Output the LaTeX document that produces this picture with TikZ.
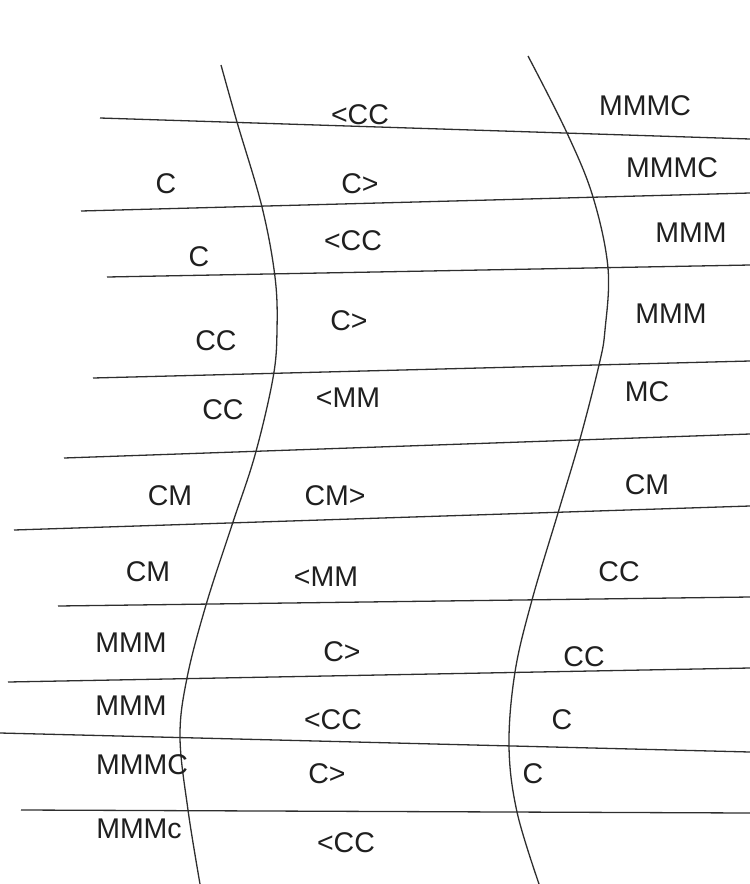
\documentclass[tikz,border=0pt]{standalone}
\usepackage{fontspec}
\setmainfont{Liberation Sans}
\begin{document}
\begin{tikzpicture}[x=1pt,y=-1pt,
  rule/.style={draw=black!82,line width=1.3pt},
  lbl/.style={inner sep=0pt,text=black!88,font=\fontsize{28.5}{34}\selectfont}]
\useasboundingbox (0,0) rectangle (750,884);
% horizontal lines
\draw[rule] (100,118) -- (750,139);
\draw[rule] (81,211) -- (750,193);
\draw[rule] (107,277) -- (750,265);
\draw[rule] (93,378) -- (750,361);
\draw[rule] (64,458) -- (750,434);
\draw[rule] (14,530) -- (750,506);
\draw[rule] (58,606) -- (750,597);
\draw[rule] (8,682) -- (750,668);
\draw[rule] (0,733) -- (750,752);
\draw[rule] (21,810) -- (750,813);
% left curve
\draw[rule] plot[smooth,tension=0.6] coordinates {(221,65) (237,122) (262,207) (275,277) (277,330) (273,378) (255,455) (232,525) (206,605) (187,678) (180,737) (188,810) (200,884)};
% right curve
\draw[rule] plot[smooth,tension=0.6] coordinates {(528,56) (567,133) (593,197) (608,268) (605,330) (599,365) (580,439) (558,513) (532,600) (515,672) (509,746) (517,812) (539,884)};
% labels
\node[lbl] (a1) at (360,115) {<CC};
\node[lbl] (a2) at (645,106) {MMMC};
\node[lbl] (b0) at (166,184) {C};
\node[lbl] (b1) at (360,184) {C>};
\node[lbl] (b2) at (672,168) {MMMC};
\node[lbl] (c0) at (199,257) {C};
\node[lbl] (c1) at (353,241) {<CC};
\node[lbl] (c2) at (691,233) {MMM};
\node[lbl] (d0) at (216,341) {CC};
\node[lbl] (d1) at (349,321) {C>};
\node[lbl] (d2) at (671,314) {MMM};
\node[lbl] (e0) at (223,410) {CC};
\node[lbl] (e1) at (348,398) {<MM};
\node[lbl] (e2) at (647,392) {MC};
\node[lbl] (f0) at (170,496) {CM};
\node[lbl] (f1) at (335,496) {CM>};
\node[lbl] (f2) at (647,485) {CM};
\node[lbl] (g0) at (148,572) {CM};
\node[lbl] (g1) at (326,577) {<MM};
\node[lbl] (g2) at (619,572) {CC};
\node[lbl] (h0) at (131,643) {MMM};
\node[lbl] (h1) at (342,652) {C>};
\node[lbl] (h2) at (584,657) {CC};
\node[lbl] (i0) at (131,706) {MMM};
\node[lbl] (i1) at (333,720) {<CC};
\node[lbl] (i2) at (562,720) {C};
\node[lbl] (j0) at (142,765) {MMMC};
\node[lbl] (j1) at (327,774) {C>};
\node[lbl] (j2) at (533,774) {C};
\node[lbl] (k0) at (139,829) {MMMc};
\node[lbl] (k1) at (346,843) {<CC};
\end{tikzpicture}
\end{document}
